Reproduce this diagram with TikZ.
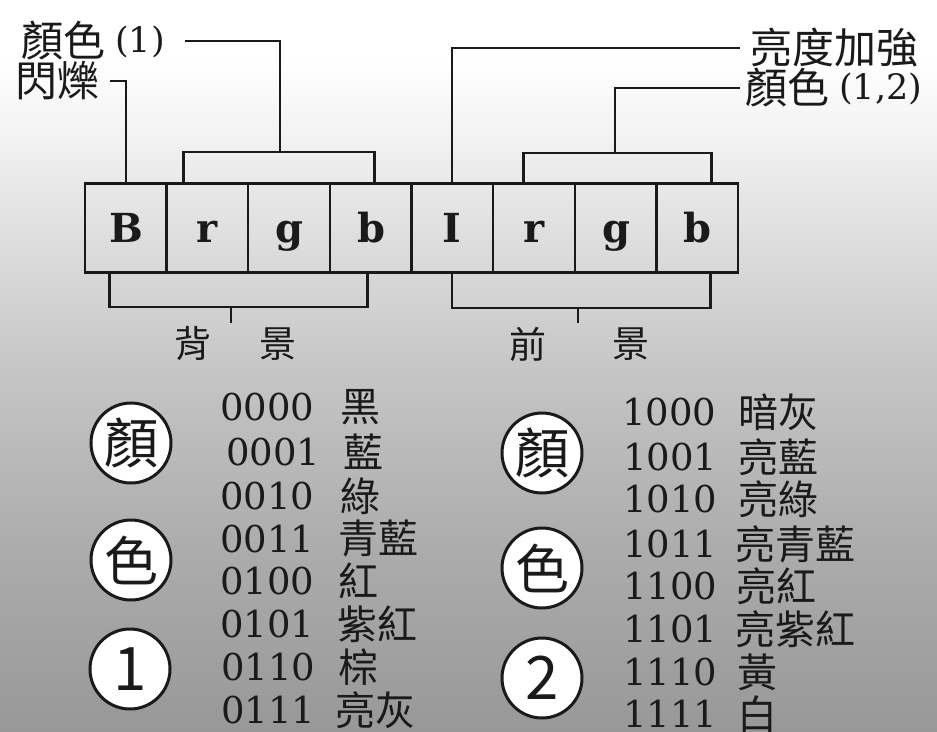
\documentclass[tikz,border=0pt]{standalone}
\usepackage{fontspec}
\newfontfamily\cjk{Noto Sans CJK TC}
\newfontfamily\serif{DejaVu Serif}
\usetikzlibrary{calc}
\definecolor{inkc}{HTML}{1A1A1A}
\definecolor{g0}{HTML}{989898}
\definecolor{g1}{HTML}{ACACAC}
\definecolor{g2}{HTML}{C4C4C4}
\definecolor{g3}{HTML}{DCDCDC}
\definecolor{g4}{HTML}{F3F3F3}
\pgfdeclareverticalshading{scanbg}{100bp}{color(0bp)=(g0); color(25bp)=(g0); color(37.5bp)=(g1); color(49bp)=(g2); color(58bp)=(g3); color(66bp)=(g4); color(71bp)=(white); color(100bp)=(white)}
\begin{document}
\begin{tikzpicture}[x=1pt,y=1pt,
  ink/.style={line width=2.7pt, draw=inkc},
  regcell/.style={draw=inkc, line width=2.7pt, minimum width=82pt, minimum height=89pt, inner sep=0pt, text height=29pt, text depth=1pt, text=inkc, font=\serif\bfseries\fontsize{40pt}{40pt}\selectfont},
  toplbl/.style={inner xsep=0pt, inner ysep=-2pt, text=inkc, font=\cjk\fontsize{42pt}{42pt}\selectfont},
  sidelbl/.style={inner sep=0pt, text=inkc, font=\cjk\fontsize{37pt}{37pt}\selectfont},
  badge/.style={circle, draw=inkc, line width=3pt, fill=white, minimum size=80pt, inner sep=0pt, text=inkc, font=\cjk\fontsize{54pt}{54pt}\selectfont},
  badgenum/.style={badge, font=\cjk\fontsize{60pt}{60pt}\selectfont},
  codetxt/.style={anchor=west, inner sep=0pt, text=inkc, font=\serif\fontsize{37pt}{37pt}\selectfont},
  colname/.style={anchor=west, inner sep=0pt, text=inkc, font=\cjk\fontsize{40pt}{40pt}\selectfont},
]
\useasboundingbox (0,0) rectangle (937,-731);
\shade[shading=scanbg] (0,0) rectangle (937,-731);

% register cells
\node[regcell] (cB)  at (126,-228) {B};
\node[regcell] (cr1) at (207,-228) {r};
\node[regcell] (cg1) at (289,-228) {g};
\node[regcell] (cb1) at (371,-228) {b};
\node[regcell] (cI)  at (452,-228) {I};
\node[regcell] (cr2) at (534,-228) {r};
\node[regcell] (cg2) at (616,-228) {g};
\node[regcell] (cb2) at (697,-228) {b};

% top labels
\node[toplbl, anchor=east] (lblC1) at (165,-41) {顏色\hspace{10pt}\raisebox{4pt}{\serif\fontsize{35pt}{35pt}\selectfont(1)}};
\node[toplbl, anchor=east] (lblFlash) at (100,-81) {閃爍};
\node[toplbl, anchor=west] (lblBright) at (750,-48) {亮度加強};
\node[toplbl, anchor=west] (lblC2) at (745,-88) {顏色\hspace{10pt}\raisebox{4pt}{\serif\fontsize{35pt}{35pt}\selectfont(1,2)}};

% bracket coordinates
\coordinate (brTop1) at (280,-152);
\coordinate (brBot1) at (231,-307);
\coordinate (stem1) at (231,-323);
\coordinate (brTop2) at (615,-153);
\coordinate (brBot2) at (578,-308);
\coordinate (stem2) at (578,-323);

% connectors, left half
\draw[ink] ([xshift=10pt]lblFlash.east) -| (cB.north);
\draw[ink] ([xshift=19pt]cr1.north west) |- (brTop1) -| ([xshift=46pt]cb1.north west);
\draw[ink] (brTop1) |- ([xshift=20pt]lblC1.east);
\draw[ink] ([xshift=26pt]cB.south west) |- (brBot1) -| ([xshift=39pt]cb1.south west);
\draw[ink] (brBot1) -- (stem1);

% connectors, right half
\draw[ink] (cI.north) |- ([xshift=-10pt]lblBright.west);
\draw[ink] ([xshift=32pt]cr2.north west) |- (brTop2) -| ([xshift=57pt]cb2.north west);
\draw[ink] (brTop2) |- ([xshift=-5pt]lblC2.west);
\draw[ink] (cI.south) |- (brBot2) -| ([xshift=56pt]cb2.south west);
\draw[ink] (brBot2) -- (stem2);

% group labels
\node[sidelbl] (bg1) at (193,-344) {背};
\node[sidelbl] (bg2) at (278,-344) {景};
\node[sidelbl] (fg1) at (528,-344) {前};
\node[sidelbl] (fg2) at (631,-344) {景};

% badges
\node[badge] (lb1) at (131,-443) {顏};
\node[badge] (lb2) at (131,-560) {色};
\node[badgenum] (lb3) at (130,-669) {1};
\node[badge] (rb1) at (542,-453) {顏};
\node[badge] (rb2) at (542,-568) {色};
\node[badgenum] (rb3) at (542,-678) {2};

% left colour list
\node[codetxt] (n0) at (220,-407) {0000};  \node[colname] (m0) at (340,-407) {黑};
\node[codetxt] (n1) at (226,-452) {0001};  \node[colname] (m1) at (343,-452) {藍};
\node[codetxt] (n2) at (220,-496) {0010};  \node[colname] (m2) at (340,-496) {綠};
\node[codetxt] (n3) at (220,-539) {0011};  \node[colname] (m3) at (338,-539) {青藍};
\node[codetxt] (n4) at (220,-581) {0100};  \node[colname] (m4) at (338,-581) {紅};
\node[codetxt] (n5) at (220,-624) {0101};  \node[colname] (m5) at (337,-624) {紫紅};
\node[codetxt] (n6) at (221,-667) {0110};  \node[colname] (m6) at (338,-667) {棕};
\node[codetxt] (n7) at (221,-710) {0111};  \node[colname] (m7) at (335,-710) {亮灰};

% right colour list
\node[codetxt] (p0) at (622,-412) {1000};  \node[colname] (q0) at (738,-412) {暗灰};
\node[codetxt] (p1) at (623,-457) {1001};  \node[colname] (q1) at (738,-457) {亮藍};
\node[codetxt] (p2) at (623,-499) {1010};  \node[colname] (q2) at (738,-499) {亮綠};
\node[codetxt] (p3) at (623,-544) {1011};  \node[colname] (q3) at (735,-544) {亮青藍};
\node[codetxt] (p4) at (623,-586) {1100};  \node[colname] (q4) at (736,-586) {亮紅};
\node[codetxt] (p5) at (623,-629) {1101};  \node[colname] (q5) at (735,-629) {亮紫紅};
\node[codetxt] (p6) at (623,-672) {1110};  \node[colname] (q6) at (737,-672) {黃};
\node[codetxt] (p7) at (623,-714) {1111};  \node[colname] (q7) at (737,-714) {白};
\end{tikzpicture}
\end{document}
